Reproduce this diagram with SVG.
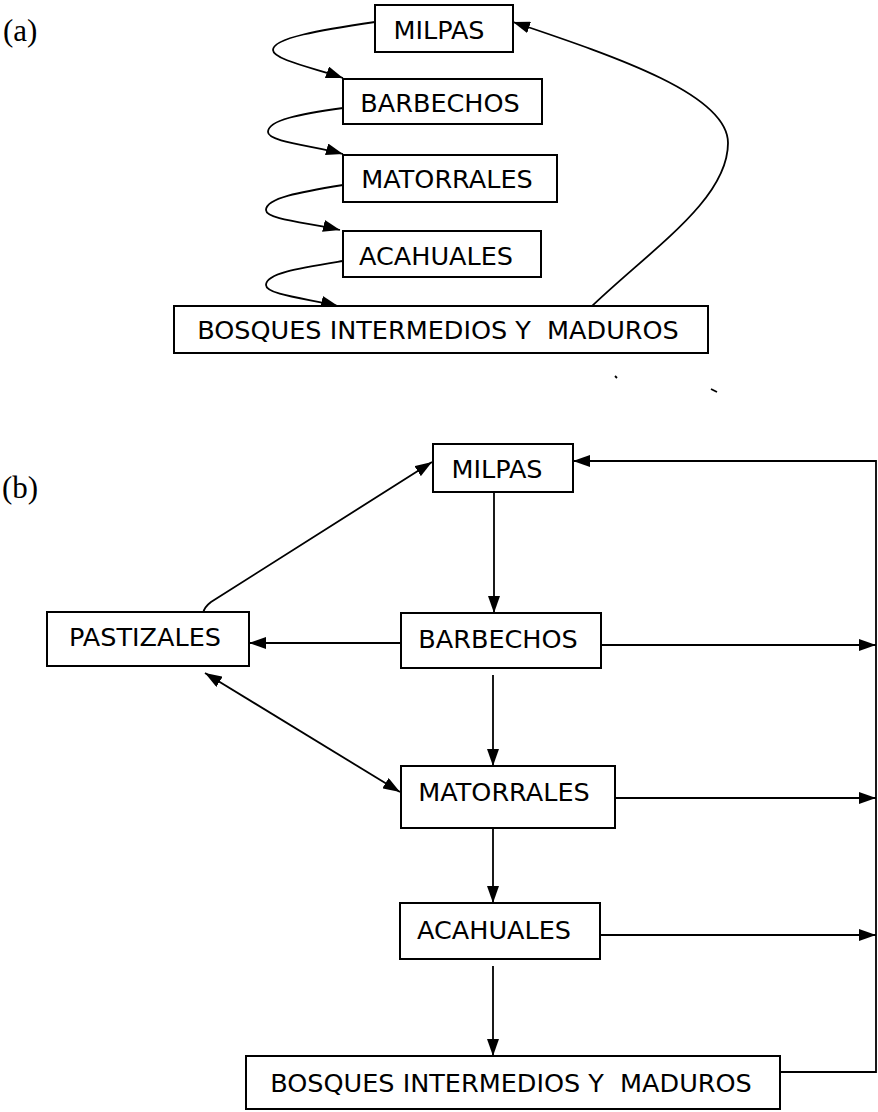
<svg xmlns="http://www.w3.org/2000/svg" width="878" height="1112" viewBox="0 0 878 1112">
<style>
.box{fill:#fff;stroke:#000;stroke-width:2}
.lbl{font-family:"DejaVu Sans",Verdana,sans-serif;font-size:25.5px;fill:#000;text-anchor:middle}
.tag{font-family:"Liberation Serif","Times New Roman",serif;font-size:31px;fill:#000}
.ln{fill:none;stroke:#000;stroke-width:1.8}
</style>
<defs>
<marker id="ah" markerUnits="userSpaceOnUse" markerWidth="17" markerHeight="12" viewBox="0 0 17 12" refX="17" refY="6" orient="auto-start-reverse">
<path d="M0,0 L17,6 L0,12 Z" fill="#000"/>
</marker>
</defs>
<rect width="878" height="1112" fill="#fff"/>
<text class="tag" x="3" y="41">(a)</text>
<text class="tag" x="2" y="498">(b)</text>

<g id="connectors">
<!-- (a) -->
<path class="ln" d="M375,22 C320,30 273,38 273,50 C273,60 318,69 343,78" marker-end="url(#ah)"/>
<path class="ln" d="M343,108 C300,114 268,120 268,132 C268,142 315,146 343,154" marker-end="url(#ah)"/>
<path class="ln" d="M343,185 C300,192 266,198 266,210 C266,220 312,223 340,230" marker-end="url(#ah)"/>
<path class="ln" d="M343,261 C300,268 266,273 266,285 C266,295 310,299 338,306" marker-end="url(#ah)"/>
<path class="ln" d="M590,308 C650,250 728,200 728,143 C728,95 620,58 513,22" marker-end="url(#ah)"/>
<!-- (b) -->
<path class="ln" d="M203,613 C204,609 207,605 211,602 L432,462" marker-end="url(#ah)"/>
<path class="ln" d="M401,643 L249,643" marker-end="url(#ah)"/>
<path class="ln" d="M494,492 L494,613" marker-end="url(#ah)"/>
<path class="ln" d="M601,645 L876,645" marker-end="url(#ah)"/>
<path class="ln" d="M205,673 L400,792" marker-start="url(#ah)" marker-end="url(#ah)"/>
<path class="ln" d="M493,675 L493,766" marker-end="url(#ah)"/>
<path class="ln" d="M615,798 L876,798" marker-end="url(#ah)"/>
<path class="ln" d="M493,828 L493,903" marker-end="url(#ah)"/>
<path class="ln" d="M600,935 L876,935" marker-end="url(#ah)"/>
<path class="ln" d="M493,966 L493,1056" marker-end="url(#ah)"/>
<path class="ln" d="M780,1072 L876,1072 L876,461 L573,461" marker-end="url(#ah)"/>
<!-- specks -->
<path class="ln" d="M711,389 L717,392" stroke-width="2"/>
<path class="ln" d="M615,376 L617,378" stroke-width="2"/>
</g>

<g id="a-milpas"><rect class="box" x="375" y="5" width="138" height="47"/><text class="lbl" x="439" y="39">MILPAS</text></g>
<g id="a-barbechos"><rect class="box" x="343" y="79" width="199" height="45"/><text class="lbl" x="440" y="112">BARBECHOS</text></g>
<g id="a-matorrales"><rect class="box" x="343" y="155" width="214" height="47"/><text class="lbl" x="447" y="188">MATORRALES</text></g>
<g id="a-acahuales"><rect class="box" x="343" y="231" width="198" height="46"/><text class="lbl" x="436" y="265">ACAHUALES</text></g>
<g id="a-bosques"><rect class="box" x="174" y="306" width="534" height="47"/><text class="lbl" x="438" y="339" xml:space="preserve">BOSQUES INTERMEDIOS Y  MADUROS</text></g>

<g id="b-milpas"><rect class="box" x="433" y="444" width="140" height="48"/><text class="lbl" x="497" y="478">MILPAS</text></g>
<g id="b-pastizales"><rect class="box" x="47" y="612" width="202" height="54"/><text class="lbl" x="145" y="646">PASTIZALES</text></g>
<g id="b-barbechos"><rect class="box" x="401" y="613" width="200" height="55"/><text class="lbl" x="498" y="648">BARBECHOS</text></g>
<g id="b-matorrales"><rect class="box" x="401" y="766" width="214" height="62"/><text class="lbl" x="504" y="801">MATORRALES</text></g>
<g id="b-acahuales"><rect class="box" x="400" y="903" width="200" height="56"/><text class="lbl" x="494" y="939">ACAHUALES</text></g>
<g id="b-bosques"><rect class="box" x="246" y="1056" width="534" height="53"/><text class="lbl" x="511" y="1092" xml:space="preserve">BOSQUES INTERMEDIOS Y  MADUROS</text></g>
</svg>
